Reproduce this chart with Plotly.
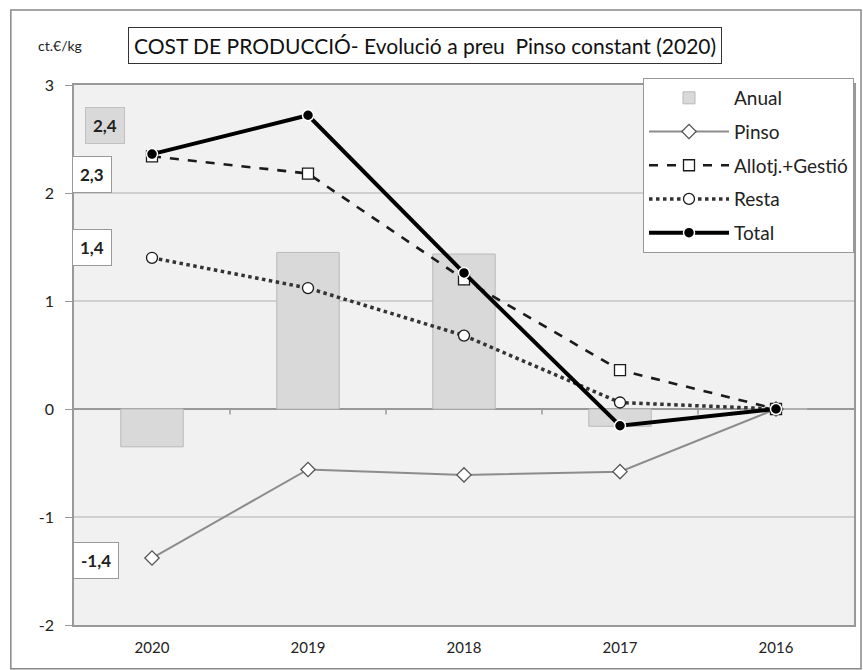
import plotly.graph_objects as go

categories = ["2020", "2019", "2018", "2017", "2016"]
anual = [-0.35, 1.45, 1.435, -0.16, 0.0]
pinso = [-1.38, -0.56, -0.61, -0.58, 0.0]
allotj = [2.34, 2.18, 1.20, 0.36, 0.0]
resta = [1.40, 1.12, 0.68, 0.06, 0.0]
total = [2.36, 2.72, 1.26, -0.155, 0.0]
y_ticks = [3, 2, 1, 0, -1, -2]

FONT = "Lato"

fig = go.Figure()
fig.add_trace(go.Bar(x=categories, y=anual, name="Anual", width=0.4,
                     marker=dict(color="#d9d9d9", line=dict(color="#b8b8b8", width=1)),
                     legendgroup="a"))
fig.add_trace(go.Scatter(x=categories, y=pinso, name="Pinso", mode="lines+markers",
                         line=dict(color="#8c8c8c", width=2),
                         marker=dict(symbol="diamond", size=11, color="white",
                                     line=dict(color="#555555", width=1.3)),
                         legendgroup="b"))
fig.add_trace(go.Scatter(x=categories, y=allotj, name="Allotj.+Gestió", mode="lines+markers",
                         line=dict(color="#1a1a1a", width=2.6, dash="dash"),
                         marker=dict(symbol="square", size=11, color="white",
                                     line=dict(color="#1a1a1a", width=1.3)),
                         legendgroup="c"))
fig.add_trace(go.Scatter(x=categories, y=resta, name="Resta", mode="lines+markers",
                         line=dict(color="#333333", width=3.5, dash="dot"),
                         marker=dict(symbol="circle", size=11, color="white",
                                     line=dict(color="#1a1a1a", width=1.3)),
                         legendgroup="d"))
fig.add_trace(go.Scatter(x=categories, y=total, name="Total", mode="lines+markers",
                         line=dict(color="black", width=4),
                         marker=dict(symbol="circle", size=11, color="black",
                                     line=dict(color="white", width=1.5)),
                         legendgroup="e"))

def fmt(v):
    return f"{v:.1f}".replace(".", ",")

labels = [
    (total[0], -47, 29, "#d9d9d9", "#c0c0c0"),
    (allotj[0], -60, -18, "white", "#999999"),
    (resta[0], -60, 10, "white", "#999999"),
    (pinso[0], -56, -2, "white", "#999999"),
]
for v, xs, ys, bg, bc in labels:
    fig.add_annotation(x=0, y=v, text="<b>" + fmt(v) + "</b>", showarrow=False,
                       xshift=xs, yshift=ys, bgcolor=bg, bordercolor=bc, borderwidth=1,
                       borderpad=7, font=dict(family=FONT, size=17, color="#222222"))

# x tick marks at category boundaries on the zero line
for i in range(len(categories) - 1):
    fig.add_shape(type="line", xref="x", yref="y", x0=i + 0.5, x1=i + 0.5, y0=0, y1=-0.05,
                  line=dict(color="#999999", width=1.5))

# title box
fig.add_annotation(xref="paper", yref="paper", x=0.45, y=1.074, xanchor="center", yanchor="middle",
                   text="COST DE PRODUCCIÓ- Evolució a preu  Pinso constant (2020)",
                   showarrow=False, bordercolor="#333333", borderwidth=1, borderpad=5,
                   bgcolor="white", font=dict(family=FONT, size=21, color="#111111"))
fig.add_annotation(xref="paper", yref="paper", x=-0.018, y=1.074, xanchor="center", yanchor="middle",
                   text="ct.€/kg",
                   showarrow=False, font=dict(family=FONT, size=14, color="#222222"))

# outer frame
fig.add_shape(type="rect", xref="paper", yref="paper", x0=-0.081, x1=1.009, y0=-0.081, y1=1.139,
              line=dict(color="#888888", width=1.5), layer="below")

fig.update_layout(
    width=863, height=670,
    margin=dict(l=74, r=9, t=85, b=45, autoexpand=False),
    paper_bgcolor="white", plot_bgcolor="#f1f1f1",
    font=dict(family=FONT, size=15, color="#222222"),
    bargap=0.6,
    showlegend=True,
    hovermode=False,
    legend=dict(x=1.0, y=1.013, xanchor="right", yanchor="top", bgcolor="white",
                bordercolor="#999999", borderwidth=1, tracegroupgap=6, itemwidth=80,
                font=dict(family=FONT, size=19, color="#222222")),
    xaxis=dict(type="category", categoryorder="array", categoryarray=categories,
               showgrid=False, showline=True, mirror=True, linecolor="#999999", linewidth=1.5,
               ticks="", tickfont=dict(family=FONT, size=15), range=[-0.5, 4.5],
               ticklabelstandoff=8),
    yaxis=dict(range=[-2, 3], tickvals=y_ticks, ticktext=[str(t) for t in y_ticks],
               showgrid=True, gridcolor="#d0d0d0", gridwidth=1.5,
               zeroline=True, zerolinecolor="#999999", zerolinewidth=2,
               showline=True, mirror=True, linecolor="#999999", linewidth=1.5,
               ticks="outside", ticklen=7, tickcolor="#999999",
               tickfont=dict(family=FONT, size=16), ticklabelstandoff=8),
)

fig.write_html("out.html", config={"displayModeBar": False},
               post_script="document.body.style.margin='0';")
